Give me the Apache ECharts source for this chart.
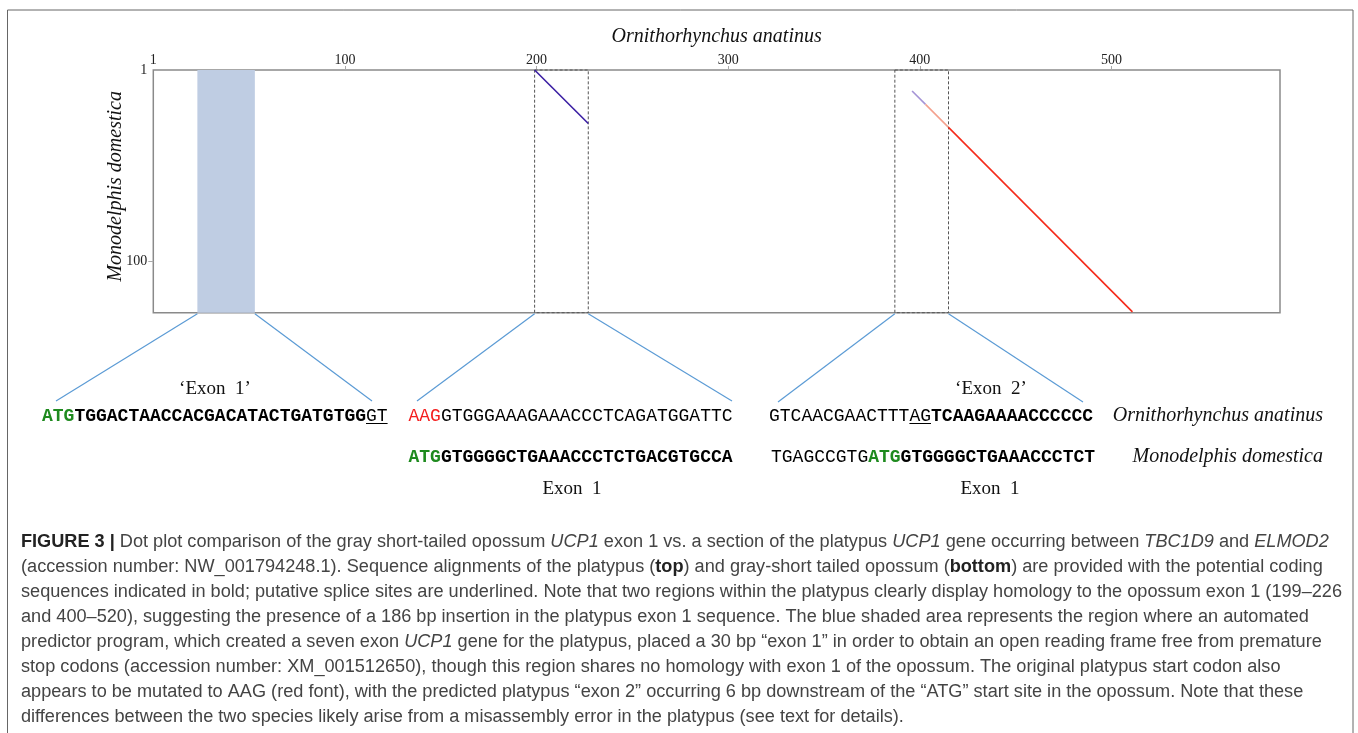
<!DOCTYPE html>
<html><head><meta charset="utf-8">
<script src="https://cdn.jsdelivr.net/npm/echarts@6/dist/echarts.min.js"></script>
<style>html,body{margin:0;padding:0;background:#fff}#c{width:1358px;height:733px}</style>
</head><body><div id="c"></div>
<script>
// ---------- data ----------
const xTickValues = [0, 100, 200, 300, 400, 500];
const xTickLabels = ['1', '100', '200', '300', '400', '500'];
const yTickValues = [0, 100];
const yTickLabels = ['1', '100'];
const xMax = 588;
const yMax = 127;
const predictedExon1 = [23, 53];
const homologyBoxes = [[199, 227], [387, 415]];
const matchLine1 = [[199, 0], [227, 28]];
const matchLine2a = [[396, 11], [403, 18]];
const matchLine2b = [[403, 18], [415, 30]];
const matchLine2c = [[415, 30], [511, 126.6]];

const seqPlatypus = [
  [['ATG', 'g'], ['TGGACTAACCACGACATACTGATGTGG', 'b'], ['GT', 'u']],
  [['AAG', 'r'], ['GTGGGAAAGAAACCCTCAGATGGATTC', 'n']],
  [['GTCAACGAACTTT', 'n'], ['AG', 'u'], ['TCAAGAAAACCCCCC', 'b']]
];
const seqOpossum = [
  [['ATG', 'g'], ['GTGGGGCTGAAACCCTCTGACGTGCCA', 'b']],
  [['TGAGCCGTG', 'n'], ['ATG', 'g'], ['GTGGGGCTGAAACCCTCT', 'b']]
];
const speciesTop = 'Ornithorhynchus anatinus';
const speciesLeft = 'Monodelphis domestica';
const exonLabelsTop = ['\u2018Exon  1\u2019', '\u2018Exon  2\u2019'];
const exonLabelsBottom = ['Exon  1', 'Exon  1'];
const captionLines = [
  '{b|FIGURE 3 |} Dot plot comparison of the gray short-tailed opossum {i|UCP1} exon 1 vs. a section of the platypus {i|UCP1} gene occurring between {i|TBC1D9} and {i|ELMOD2}',
  '(accession number: NW_001794248.1). Sequence alignments of the platypus ({b|top}) and gray-short tailed opossum ({b|bottom}) are provided with the potential coding',
  'sequences indicated in bold; putative splice sites are underlined. Note that two regions within the platypus clearly display homology to the opossum exon 1 (199\u2013226',
  'and 400\u2013520), suggesting the presence of a 186 bp insertion in the platypus exon 1 sequence. The blue shaded area represents the region where an automated',
  'predictor program, which created a seven exon {i|UCP1} gene for the platypus, placed a 30 bp \u201cexon 1\u201d in order to obtain an open reading frame free from premature',
  'stop codons (accession number: XM_001512650), though this region shares no homology with exon 1 of the opossum. The original platypus start codon also',
  'appears to be mutated to AAG (red font), with the predicted platypus \u201cexon 2\u201d occurring 6 bp downstream of the \u201cATG\u201d start site in the opossum. Note that these',
  'differences between the two species likely arise from a misassembly error in the platypus (see text for details).'
];

// ---------- layout ----------
const SERIF = '"Liberation Serif","Times New Roman",serif';
const MONO = '"Liberation Mono","Courier New",monospace';
const SANS = '"Liberation Sans",Arial,sans-serif';
const seqFont = 18, charW = seqFont * 0.6;
const capFont = 18.15;
const rowY = [416, 457];
const seqX = [[42, 408.5, 769], [408.5, 771]];
const connEnds = [[56, 401], [372, 401], [417, 401], [732, 401], [778, 402], [1083, 402]];

const chart = echarts.init(document.getElementById('c'), null, {renderer: 'canvas'});

const option = {
  backgroundColor: '#fff',
  animation: false,
  grid: {left: 153.3, top: 70, width: 1126.7, height: 242.7, show: true,
         borderColor: '#8a8a8a', borderWidth: 1.5, backgroundColor: 'transparent'},
  xAxis: {
    type: 'value', position: 'top', min: 0, max: xMax,
    name: speciesTop, nameLocation: 'middle', nameGap: 23,
    nameTextStyle: {fontFamily: SERIF, fontStyle: 'italic', fontSize: 20, color: '#111'},
    axisLine: {show: false},
    splitLine: {show: false},
    axisTick: {show: true, length: 4, lineStyle: {color: '#aaa'}, customValues: xTickValues.slice(1)},
    axisLabel: {margin: 3, fontFamily: SERIF, fontSize: 14, color: '#222', customValues: xTickValues,
                formatter: v => xTickLabels[xTickValues.indexOf(v)]}
  },
  yAxis: {
    type: 'value', inverse: true, min: 0, max: yMax,
    name: speciesLeft, nameLocation: 'middle', nameGap: 28, nameRotate: 90, nameMoveOverlap: false,
    nameTextStyle: {fontFamily: SERIF, fontStyle: 'italic', fontSize: 20, color: '#111', padding: [0, 0, 0, 10]},
    axisLine: {show: false},
    splitLine: {show: false},
    axisTick: {show: true, length: 5, lineStyle: {color: '#aaa'}, customValues: yTickValues.slice(1)},
    axisLabel: {margin: 6, fontFamily: SERIF, fontSize: 14, color: '#222', customValues: yTickValues,
                formatter: v => yTickLabels[yTickValues.indexOf(v)]}
  },
  series: [
    {type: 'line', data: [], silent: true,
     markArea: {silent: true, itemStyle: {color: '#bfcde3', opacity: 1},
                data: [[{xAxis: predictedExon1[0]}, {xAxis: predictedExon1[1]}]]}},
    {type: 'line', data: [], silent: true,
     markArea: {silent: true, itemStyle: {color: 'rgba(0,0,0,0)', borderColor: '#555', borderWidth: 1, borderType: [3, 2]},
                data: homologyBoxes.map(b => [{xAxis: b[0]}, {xAxis: b[1]}])}},
    {type: 'line', data: matchLine1, symbol: 'none', lineStyle: {color: '#3b1fa3', width: 1.6}, z: 5},
    {type: 'line', data: matchLine2a, symbol: 'none', lineStyle: {color: '#a594d6', width: 1.6}, z: 5},
    {type: 'line', data: matchLine2b, symbol: 'none', lineStyle: {color: '#f4a18e', width: 1.6}, z: 5},
    {type: 'line', data: matchLine2c, symbol: 'none', lineStyle: {color: '#f52a1a', width: 1.6}, z: 5}
  ]
};
chart.setOption(option);

// ---------- annotations ----------
const g = [];
g.push({type: 'rect', shape: {x: 7.5, y: 10, width: 1345.5, height: 760},
        style: {fill: 'none', stroke: '#666', lineWidth: 1}, z: 1});

const connStartX = [predictedExon1[0], predictedExon1[1], homologyBoxes[0][0], homologyBoxes[0][1], homologyBoxes[1][0], homologyBoxes[1][1]];
connStartX.forEach((xv, i) => {
  const p = chart.convertToPixel({gridIndex: 0}, [xv, yMax]);
  g.push({type: 'line', shape: {x1: p[0], y1: p[1] + 1, x2: connEnds[i][0], y2: connEnds[i][1]},
          style: {stroke: '#5b9bd5', lineWidth: 1.2}, z: 2});
});

const rich = {
  g: {fontFamily: MONO, fontSize: seqFont, fontWeight: 'bold', fill: '#1e8a1e'},
  r: {fontFamily: MONO, fontSize: seqFont, fill: '#f41e1e'},
  b: {fontFamily: MONO, fontSize: seqFont, fontWeight: 'bold', fill: '#000'},
  n: {fontFamily: MONO, fontSize: seqFont, fill: '#000'},
  u: {fontFamily: MONO, fontSize: seqFont, fill: '#000'}
};
function seqRow(segs, x, y) {
  g.push({type: 'text', z: 3, style: {x: x, y: y, verticalAlign: 'middle', align: 'left',
    text: segs.map(s => '{' + s[1] + '|' + s[0] + '}').join(''), rich: rich,
    fontFamily: MONO, fontSize: seqFont}});
  let off = 0;
  segs.forEach(s => {
    if (s[1] === 'u') {
      g.push({type: 'line', z: 3, shape: {x1: x + off * charW, y1: y + 7.5, x2: x + (off + s[0].length) * charW, y2: y + 7.5},
              style: {stroke: '#000', lineWidth: 1}});
    }
    off += s[0].length;
  });
}
seqPlatypus.forEach((segs, i) => seqRow(segs, seqX[0][i], rowY[0]));
seqOpossum.forEach((segs, i) => seqRow(segs, seqX[1][i], rowY[1]));

[[speciesTop, rowY[0]], [speciesLeft, rowY[1]]].forEach(d => {
  g.push({type: 'text', z: 3, style: {x: 1323, y: d[1], align: 'right', verticalAlign: 'middle', text: d[0],
    fontFamily: SERIF, fontStyle: 'italic', fontSize: 20, fill: '#111'}});
});
[[exonLabelsTop[0], 215, 389], [exonLabelsTop[1], 991, 389],
 [exonLabelsBottom[0], 572, 489], [exonLabelsBottom[1], 990, 489]].forEach(d => {
  g.push({type: 'text', z: 3, style: {x: d[1], y: d[2], align: 'center', verticalAlign: 'middle', text: d[0],
    fontFamily: SERIF, fontSize: 19, fill: '#111'}});
});

const capRich = {
  b: {fontFamily: SANS, fontSize: capFont, fontWeight: 'bold', fill: '#222'},
  i: {fontFamily: SANS, fontSize: capFont, fontStyle: 'italic', fill: '#444'}
};
captionLines.forEach((t, i) => {
  g.push({type: 'text', z: 3, style: {x: 21, y: 542 + i * 25, verticalAlign: 'middle', align: 'left', text: t,
    rich: capRich, fontFamily: SANS, fontSize: capFont, fill: '#444'}});
});

chart.setOption({graphic: {elements: g}});
</script></body></html>
